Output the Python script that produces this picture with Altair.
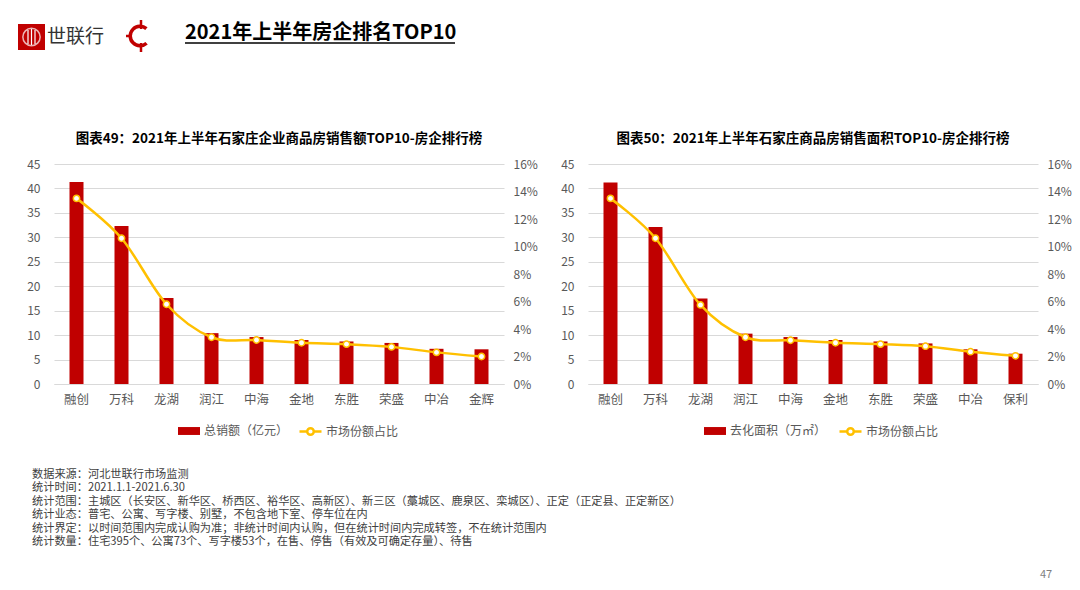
import altair as alt
import pandas as pd

FONT = "Noto Sans CJK SC"
RED = "#C00000"
ORANGE = "#FFC000"
GRAY = "#595959"
GRID = "#D9D9D9"

header_title = "2021年上半年房企排名TOP10"
brand_name = "世联行"
page_number = "47"
share_series = "市场份额占比"

left_title = "图表49：2021年上半年石家庄企业商品房销售额TOP10-房企排行榜"
left_companies = ["融创", "万科", "龙湖", "润江", "中海", "金地", "东胜", "荣盛", "中冶", "金辉"]
left_values = [41.3, 32.3, 17.6, 10.4, 9.6, 9.0, 8.7, 8.4, 7.2, 7.1]
left_shares = [0.135, 0.106, 0.058, 0.034, 0.032, 0.030, 0.029, 0.027, 0.023, 0.020]
left_bar_series = "总销额（亿元）"

right_title = "图表50：2021年上半年石家庄商品房销售面积TOP10-房企排行榜"
right_companies = ["融创", "万科", "龙湖", "润江", "中海", "金地", "东胜", "荣盛", "中冶", "保利"]
right_values = [41.2, 32.1, 17.5, 10.3, 9.6, 9.0, 8.7, 8.3, 7.1, 6.2]
right_shares = [0.135, 0.106, 0.0575, 0.034, 0.0318, 0.030, 0.029, 0.0275, 0.0235, 0.0205]
right_bar_series = "去化面积（万㎡）"

value_ticks = [0, 5, 10, 15, 20, 25, 30, 35, 40, 45]
share_ticks = [0, 0.02, 0.04, 0.06, 0.08, 0.10, 0.12, 0.14, 0.16]

footnotes = [
    "数据来源：河北世联行市场监测",
    "统计时间：2021.1.1-2021.6.30",
    "统计范围：主城区（长安区、新华区、桥西区、裕华区、高新区）、新三区（藁城区、鹿泉区、栾城区）、正定（正定县、正定新区）",
    "统计业态：普宅、公寓、写字楼、别墅，不包含地下室、停车位在内",
    "统计界定：以时间范围内完成认购为准；非统计时间内认购，但在统计时间内完成转签，不在统计范围内",
    "统计数量：住宅395个、公寓73个、写字楼53个，在售、停售（有效及可确定存量）、待售",
]

PLOT_W = 450
PLOT_H = 220
BAR_SYMBOL = "M-1,-0.36L1,-0.36L1,0.36L-1,0.36Z"
LINE_SYMBOL = ("M-1,0L-0.3,0M0.3,0L1,0"
               "M-0.3,0A0.3,0.3 0 1,1 0.3,0A0.3,0.3 0 1,1 -0.3,0Z")

one = pd.DataFrame({"t": [""]})


def label(text, x, y, **kw):
    return alt.Chart(pd.DataFrame({"t": [text]})).mark_text(font=FONT, **kw).encode(
        x=alt.value(x), y=alt.value(y), text="t:N")


def rule(x1, y1, x2, y2, color, w):
    return alt.Chart(one).mark_rule(color=color, strokeWidth=w).encode(
        x=alt.value(x1), x2=alt.value(x2), y=alt.value(y1), y2=alt.value(y2))


def panel(companies, values, shares, bar_series, title, bar_lx, line_lx, extras):
    df = pd.DataFrame({
        "企业": companies,
        "数值": values,
        "占比": shares,
        "柱系列": [bar_series] * len(companies),
        "线系列": [share_series] * len(companies),
    })
    base = alt.Chart(df).encode(
        x=alt.X("企业:N", sort=None, title=None,
                scale=alt.Scale(paddingInner=0, paddingOuter=0),
                axis=alt.Axis(labelAngle=0, labelFont=FONT, labelFontSize=12.5,
                              labelColor=GRAY, labelPadding=9, ticks=False,
                              domainColor=GRID, domainWidth=1, grid=False)))
    bars = base.mark_bar(size=14).encode(
        y=alt.Y("数值:Q", title=None, scale=alt.Scale(domain=[0, 45], nice=False),
                axis=alt.Axis(values=value_ticks, grid=True, gridColor=GRID, gridWidth=1,
                              ticks=False, domain=False, labelFont=FONT, labelFontSize=12,
                              labelColor=GRAY, labelPadding=14)),
        color=alt.Color("柱系列:N", scale=alt.Scale(range=[RED]),
                        legend=alt.Legend(title=None, orient="none", legendX=bar_lx, legendY=255,
                                          symbolType=BAR_SYMBOL, symbolSize=484,
                                          labelFont=FONT, labelFontSize=12, labelColor=GRAY,
                                          labelOffset=3, padding=0)))
    yshare = alt.Y("占比:Q", title=None, scale=alt.Scale(domain=[0, 0.16], nice=False),
                   axis=alt.Axis(values=share_ticks, format=".0%", orient="right", grid=False,
                                 ticks=False, domain=False, labelFont=FONT, labelFontSize=12,
                                 labelColor=GRAY, labelPadding=9))
    line = base.mark_line(strokeWidth=2.5, interpolate="cardinal").encode(
        y=yshare,
        color=alt.Color("线系列:N", scale=alt.Scale(range=[ORANGE]),
                        legend=alt.Legend(title=None, orient="none", legendX=line_lx, legendY=255,
                                          symbolType=LINE_SYMBOL, symbolSize=484,
                                          symbolStrokeWidth=2.5,
                                          labelFont=FONT, labelFontSize=12, labelColor=GRAY,
                                          labelOffset=3, padding=0)))
    pts = base.mark_circle(size=40, fill="white", stroke=ORANGE, strokeWidth=1.5,
                           opacity=1).encode(y=yshare)
    ttl = label(title, PLOT_W / 2, -25, fontSize=13.5, fontWeight="bold", color="black",
                align="center", baseline="middle")
    return alt.layer(bars, alt.layer(line, pts), ttl, *extras).resolve_scale(
        y="independent", color="independent").properties(width=PLOT_W, height=PLOT_H)


# decorations for the left panel (page header, logos, footnotes)
left_extras = [
    alt.Chart(one).mark_rect(color=RED).encode(
        x=alt.value(-36), x2=alt.value(-9), y=alt.value(-140), y2=alt.value(-114)),
    alt.Chart(one).mark_point(shape="circle", filled=False, color="white", size=300,
                              strokeWidth=1.5).encode(x=alt.value(-22.5), y=alt.value(-127)),
    rule(-26, -134, -26, -120, "white", 1.2),
    rule(-22.5, -135, -22.5, -119, "white", 1.2),
    rule(-19, -134, -19, -120, "white", 1.2),
    label(brand_name, -7, -127, fontSize=19, color="#333333", align="left", baseline="middle"),
    alt.Chart(one).mark_arc(color=RED, theta=2.4, theta2=7.0, radius=11.5, radius2=8).encode(
        x=alt.value(86), y=alt.value(-128)),
    rule(87, -144, 87, -135, RED, 2.5),
    rule(87, -121, 87, -112, RED, 2.5),
    rule(72, -128, 78, -128, RED, 2.5),
    label(header_title, 131, -131, fontSize=20, fontWeight="bold", color="black",
          align="left", baseline="middle"),
    rule(131, -121, 401, -121, "black", 1.5),
    label("\n".join(footnotes), -22, 311, fontSize=11.2, lineHeight=13.4, lineBreak="\n",
          color="#404040", align="left", baseline="middle"),
]

right_extras = [
    label(page_number, 458, 411, fontSize=11, color="#7F7F7F", align="center", baseline="middle"),
]

left = panel(left_companies, left_values, left_shares, left_bar_series, left_title,
             123, 244, left_extras)
right = panel(right_companies, right_values, right_shares, right_bar_series, right_title,
              115, 250, right_extras)

chart = alt.hconcat(left, right, spacing=84, bounds="flush").properties(
    padding={"left": 10, "top": 10, "right": 0, "bottom": 0}
).configure_view(strokeWidth=0)

chart.save("out.html", embed_options={"renderer": "svg", "actions": False})
